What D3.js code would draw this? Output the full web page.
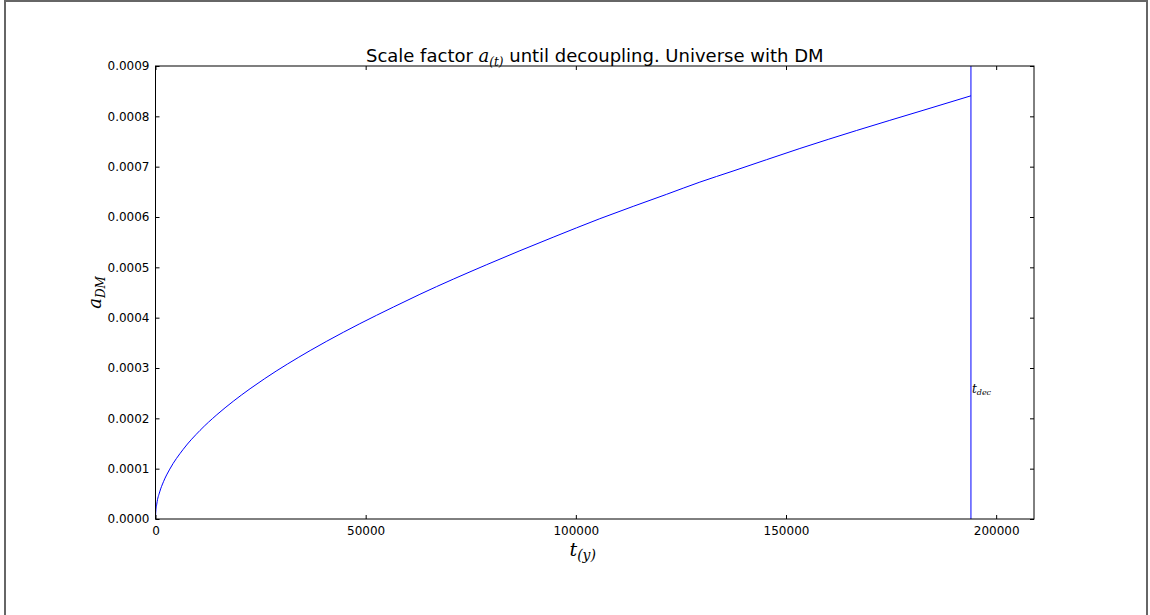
<!DOCTYPE html>
<html>
<head>
<meta charset="utf-8">
<script src="https://cdn.jsdelivr.net/npm/d3@7"></script>
<style>
  body { margin: 0; background: #fff; }
  svg { display: block; }
  .tick text { font-family: "DejaVu Sans", sans-serif; font-size: 12px; fill: #000; }
  .math { font-family: "DejaVu Serif", serif; font-style: italic; }
</style>
</head>
<body>
<div id="chart"></div>
<script>
// values (t in years, a dimensionless)
tYears = [0, 50, 300, 1000, 1900, 3400, 6600, 10600, 14600, 18500, 22500, 26000, 36800,
          44700, 48600, 56600, 62900, 78800, 86700, 94600, 105700, 121600, 129500, 137400,
          153300, 166800, 182600, 194000];
aDM = [0, 0.0000120, 0.0000295, 0.0000538, 0.0000741, 0.0000991, 0.0001385, 0.0001761,
       0.0002072, 0.0002339, 0.0002588, 0.0002790, 0.0003347, 0.0003710, 0.0003880,
       0.0004211, 0.0004464, 0.0005053, 0.0005330, 0.0005598, 0.0005966, 0.0006451,
       0.0006693, 0.0006913, 0.0007361, 0.0007719, 0.0008119, 0.0008408];
tDec = 194000;
xTicks = [0, 50000, 100000, 150000, 200000];
yTicks = [0, 0.0001, 0.0002, 0.0003, 0.0004, 0.0005, 0.0006, 0.0007, 0.0008, 0.0009];
xDomain = [0, 209000];
yDomain = [0, 0.0009];

width = 1150;
height = 615;
margin = {left: 155.5, right: 116, top: 66, bottom: 96};

svg = d3.select('#chart').append('svg')
    .attr('width', width)
    .attr('height', height);

// outer frame of the figure
svg.append('rect')
    .attr('x', 5).attr('y', 1)
    .attr('width', 1142).attr('height', 640)
    .attr('fill', 'none')
    .attr('stroke', '#666')
    .attr('stroke-width', 2);

x = d3.scaleLinear().domain(xDomain).range([margin.left, width - margin.right]);
y = d3.scaleLinear().domain(yDomain).range([height - margin.bottom, margin.top]);

plot = svg.append('g');

// data
line = d3.line()
    .x(function(d, i) { return x(tYears[i]); })
    .y(function(d) { return y(d); })
    .curve(d3.curveMonotoneX);

plot.append('path')
    .datum(aDM)
    .attr('d', line)
    .attr('fill', 'none')
    .attr('stroke', '#0000ff')
    .attr('stroke-width', 1);

plot.append('line')
    .attr('x1', x(tDec)).attr('x2', x(tDec))
    .attr('y1', y(yDomain[0])).attr('y2', y(yDomain[1]))
    .attr('stroke', '#0000ff')
    .attr('stroke-width', 1);

// axes, ticks inward on all sides
fmtY = function(d) { return d.toFixed(4); };
fmtX = function(d) { return d3.format('d')(d); };

gb = svg.append('g').attr('transform', 'translate(0,' + y(0) + ')')
    .call(d3.axisBottom(x).tickValues(xTicks).tickFormat(fmtX).tickSizeInner(-4).tickSizeOuter(0).tickPadding(7));
gt = svg.append('g').attr('transform', 'translate(0,' + y(yDomain[1]) + ')')
    .call(d3.axisTop(x).tickValues(xTicks).tickFormat('').tickSizeInner(-4).tickSizeOuter(0));
gl = svg.append('g').attr('transform', 'translate(' + x(0) + ',0)')
    .call(d3.axisLeft(y).tickValues(yTicks).tickFormat(fmtY).tickSizeInner(-4).tickSizeOuter(0).tickPadding(6));
gr = svg.append('g').attr('transform', 'translate(' + x(xDomain[1]) + ',0)')
    .call(d3.axisRight(y).tickValues(yTicks).tickFormat('').tickSizeInner(-4).tickSizeOuter(0));

[gb, gt, gl, gr].forEach(function(g) {
    g.select('.domain').remove();
    g.selectAll('.tick line').attr('stroke', '#000');
});

svg.append('rect')
    .attr('x', x(xDomain[0])).attr('y', y(yDomain[1]))
    .attr('width', x(xDomain[1]) - x(xDomain[0]))
    .attr('height', y(yDomain[0]) - y(yDomain[1]))
    .attr('fill', 'none')
    .attr('stroke', '#000')
    .attr('stroke-width', 1);

// title
title = svg.append('text')
    .attr('x', (x(xDomain[0]) + x(xDomain[1])) / 2)
    .attr('y', 61.5)
    .attr('text-anchor', 'middle')
    .style('font-family', '"DejaVu Sans", sans-serif')
    .style('font-size', '18px');
title.append('tspan').text('Scale factor ');
title.append('tspan').attr('class', 'math').text('a');
title.append('tspan').attr('class', 'math').style('font-size', '12px').attr('dy', 4).text('(t)');
title.append('tspan').attr('dy', -4).text(' until decoupling. Universe with DM');

// x label
xl = svg.append('text')
    .attr('x', (x(xDomain[0]) + x(xDomain[1])) / 2 - 12)
    .attr('y', 556)
    .attr('text-anchor', 'middle')
    .attr('class', 'math')
    .style('font-size', '19px');
xl.append('tspan').text('t');
xl.append('tspan').style('font-size', '14px').attr('dy', 4).text('(y)');

// y label
yl = svg.append('text')
    .attr('transform', 'translate(101,' + ((y(0) + y(yDomain[1])) / 2) + ') rotate(-90)')
    .attr('text-anchor', 'middle')
    .attr('class', 'math')
    .style('font-size', '18px');
yl.append('tspan').text('a');
yl.append('tspan').style('font-size', '12px').attr('dy', 4).text('DM');

// t_dec label
td = svg.append('text')
    .attr('x', x(tDec) + 1)
    .attr('y', 393)
    .attr('class', 'math')
    .style('font-size', '12px');
td.append('tspan').text('t');
td.append('tspan').style('font-size', '8px').attr('dy', 2).text('dec');
</script>
</body>
</html>
